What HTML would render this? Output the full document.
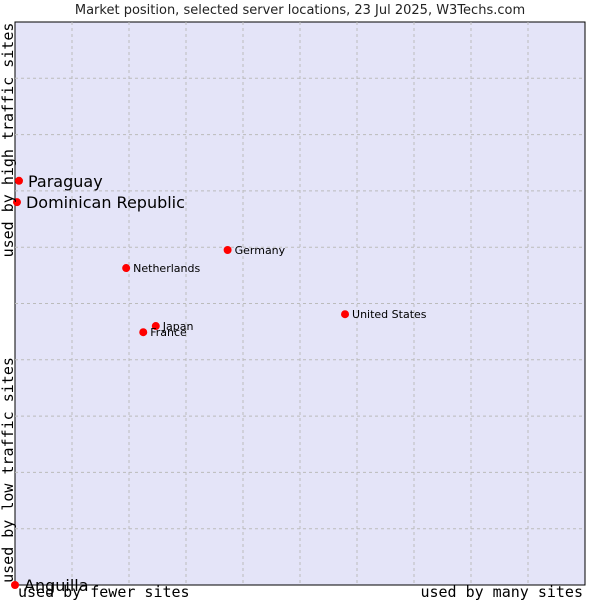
<!DOCTYPE html>
<html><head><meta charset="utf-8"><style>
body{margin:0;background:#fff;width:600px;height:600px;overflow:hidden}
svg{font-family:"DejaVu Sans","Liberation Sans",sans-serif}
</style></head><body>
<svg width="600" height="600">
<text x="300" y="14" text-anchor="middle" font-size="13" fill="#222">Market position, selected server locations, 23 Jul 2025, W3Techs.com</text>
<rect x="15" y="22" width="570" height="563" fill="#e4e4f8" stroke="#000" stroke-width="1"/>
<g id="grid"></g>
<g id="pts"></g>
<text transform="translate(13,140) rotate(-90)" text-anchor="middle" font-family="DejaVu Sans Mono,Liberation Mono,monospace" font-size="15">used by high traffic sites</text>
<text transform="translate(13,470) rotate(-90)" text-anchor="middle" font-family="DejaVu Sans Mono,Liberation Mono,monospace" font-size="15">used by low traffic sites</text>
<text x="18" y="597" font-family="DejaVu Sans Mono,Liberation Mono,monospace" font-size="15">used by fewer sites</text>
<text x="583" y="597" text-anchor="end" font-family="DejaVu Sans Mono,Liberation Mono,monospace" font-size="15">used by many sites</text>
</svg>
<script>
const names=["Paraguay","Dominican Republic","Germany","Netherlands","United States","Japan","France","Anguilla"];
const xs=[0.7,0.35,37.3,19.5,57.9,24.7,22.5,0];
const ys=[71.8,68.0,59.5,56.3,48.1,46.0,44.9,0];
const big=[1,1,0,0,0,0,0,1];
const L=15,T=22,W=570,H=563;
const sx=v=>L+v/100*W, sy=v=>T+H-v/100*H;
const ns="http://www.w3.org/2000/svg";
const g=document.getElementById('grid'),p=document.getElementById('pts');
for(let i=1;i<10;i++){
 const a=document.createElementNS(ns,'line');
 
 
 a.setAttribute('x1',sx(i*10));a.setAttribute('x2',sx(i*10));a.setAttribute('y1',T);a.setAttribute('y2',T+H);
 a.setAttribute('stroke','#bbb');a.setAttribute('stroke-dasharray','3,3');g.appendChild(a);
 const b=document.createElementNS(ns,'line');
 
 
 b.setAttribute('y1',sy(i*10));b.setAttribute('y2',sy(i*10));b.setAttribute('x1',L);b.setAttribute('x2',L+W);
 b.setAttribute('stroke','#bbb');b.setAttribute('stroke-dasharray','3,3');g.appendChild(b);
}
names.forEach((n,i)=>{
 const x=sx(xs[i]),y=sy(ys[i]);
 const c=document.createElementNS(ns,'circle');
 
 
 c.setAttribute('cx',x);c.setAttribute('cy',y);c.setAttribute('r',4);c.setAttribute('fill','#f00');p.appendChild(c);
 const t=document.createElementNS(ns,'text');
 
 
 t.setAttribute('x',x+(big[i]?9:7));t.setAttribute('y',y+(big[i]?6:4));
 t.setAttribute('font-size',big[i]?16:11);t.setAttribute('fill','#000');t.textContent=n;p.appendChild(t);
});
</script>
</body></html>
